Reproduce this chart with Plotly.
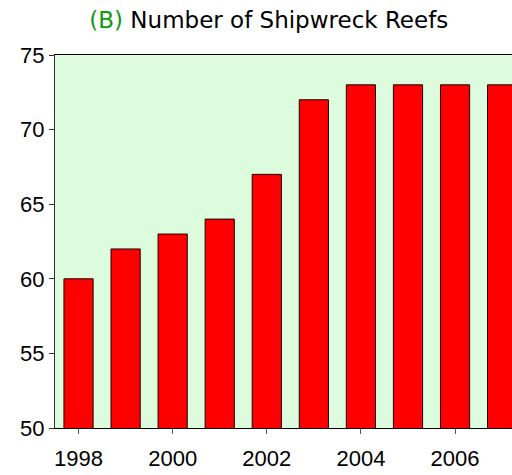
import plotly.graph_objects as go

years = [1998, 1999, 2000, 2001, 2002, 2003, 2004, 2005, 2006, 2007]
reefs = [60, 62, 63, 64, 67, 72, 73, 73, 73, 73]
x_ticks = [1998, 2000, 2002, 2004, 2006]
y_ticks = [50, 55, 60, 65, 70, 75]

fig = go.Figure(go.Bar(
    x=years,
    y=reefs,
    width=0.62,
    marker=dict(color="#FF0000", line=dict(color="#1a0000", width=1)),
))

fig.update_layout(
    width=512,
    height=475,
    margin=dict(l=55, r=0, t=55, b=47),
    paper_bgcolor="white",
    plot_bgcolor="#DDFCDD",
    showlegend=False,
    font=dict(family="Liberation Sans, Arial, sans-serif", size=22, color="black"),
    title=dict(
        text="<span style='color:#129912'>(B)</span> Number of Shipwreck Reefs",
        x=0.525,
        xanchor="center",
        y=0.958,
        yanchor="middle",
        font=dict(family="DejaVu Sans, sans-serif", size=23, color="black"),
    ),
)
fig.update_xaxes(
    range=[1997.5, 2007.21],
    tickvals=x_ticks,
    ticks="outside",
    ticklen=5,
    tickcolor="#555555",
    ticklabelstandoff=6,
    showline=True,
    linecolor="black",
    linewidth=1,
    mirror=True,
    showgrid=False,
    zeroline=False,
)
fig.update_yaxes(
    range=[50, 75],
    tickvals=y_ticks,
    ticks="outside",
    ticklen=5,
    tickcolor="#333333",
    showline=True,
    linecolor="#333333",
    linewidth=1,
    showgrid=False,
    zeroline=False,
)

# drop the browser's default page margin so the figure sits at the top-left corner
fig.write_html(
    "out.html",
    config={"displayModeBar": False},
    post_script="document.body.style.margin='0';",
)
